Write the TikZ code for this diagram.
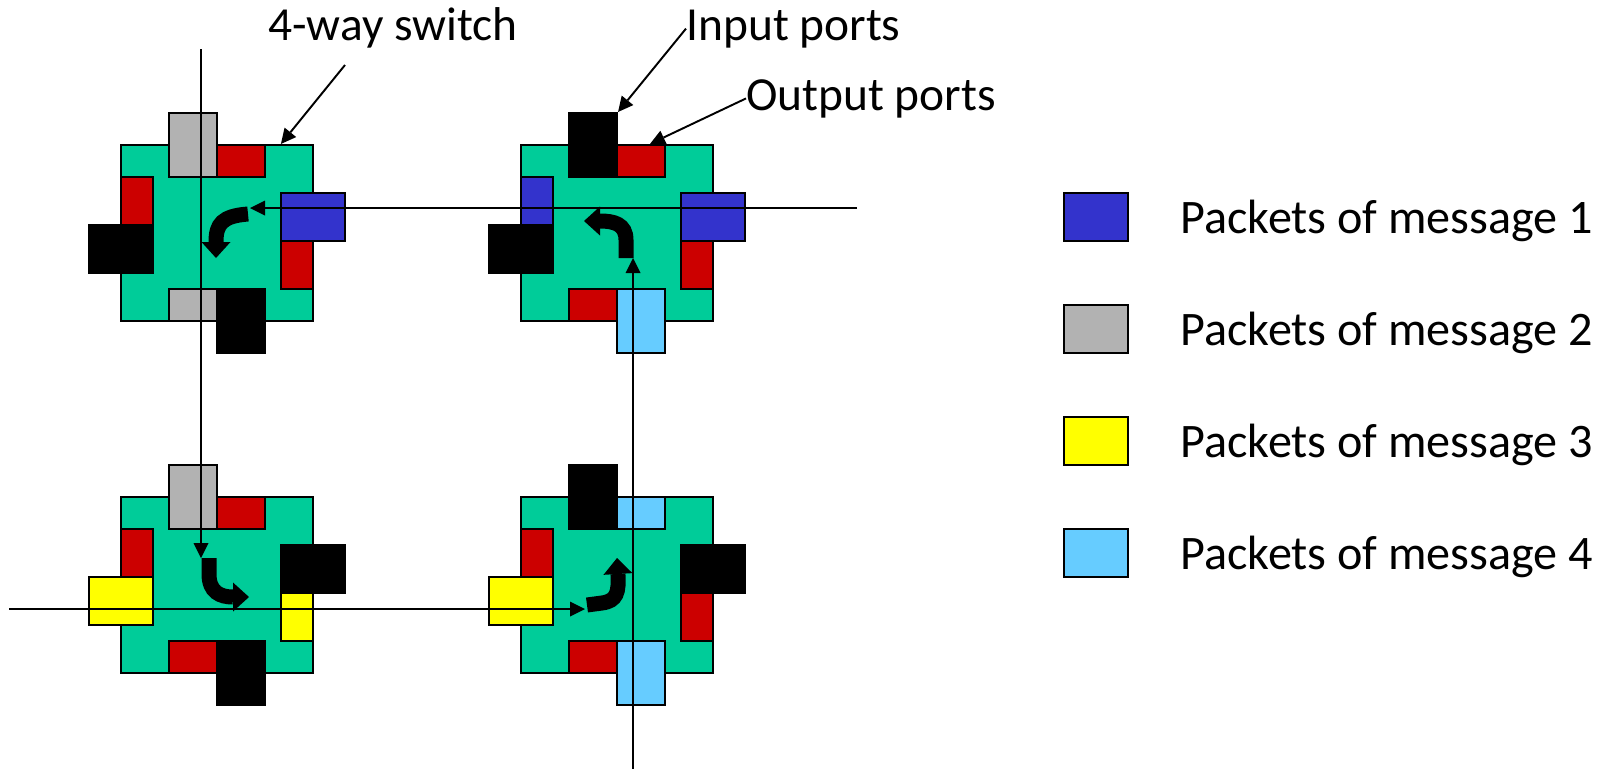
\documentclass[tikz,border=0pt]{standalone}
\usepackage{fontspec}
\setmainfont{Carlito}
\usetikzlibrary{arrows.meta}
\definecolor{swgreen}{RGB}{0,204,153}
\definecolor{portred}{RGB}{204,0,0}
\definecolor{msgone}{RGB}{51,51,204}
\definecolor{msgtwo}{RGB}{178,178,178}
\definecolor{msgthree}{RGB}{255,255,0}
\definecolor{msgfour}{RGB}{102,204,255}

\begin{document}
\begin{tikzpicture}
  [x=0.02cm,y=-0.02cm,
  sw/.style={rectangle,draw=black,fill=swgreen,line width=1.2pt,inner sep=0pt,minimum width=3.84cm,minimum height=3.52cm},
  port/.style={rectangle,draw=black,line width=1.2pt,inner sep=0pt},
  intb/.style={port,minimum width=0.96cm,minimum height=1.28cm},
  inlr/.style={port,minimum width=1.28cm,minimum height=0.96cm},
  outtb/.style={port,minimum width=0.96cm,minimum height=0.64cm},
  outlr/.style={port,minimum width=0.64cm,minimum height=0.96cm},
  msg/.style={line width=1.1pt,-{Triangle[length=0.3cm,width=0.3cm,line width=0pt]}},
  turn/.style={line width=0.3cm,-{Triangle[length=0.32cm,width=0.58cm,line width=0pt]}},
  lbl/.style={font=\fontsize{27}{32}\selectfont,inner sep=0pt},
  key/.style={font=\fontsize{27.4}{32}\selectfont,inner sep=0pt}]
  \useasboundingbox (0,0) rectangle (1598,768);

  % switch 1, top left
  \node[sw] (s1) at (217,233) {};
  \node[intb,fill=msgtwo] (1ti) at (193,145) {};
  \node[outtb,fill=portred] (1to) at (241,161) {};
  \node[outlr,fill=portred] (1lo) at (137,201) {};
  \node[inlr,fill=black] (1li) at (121,249) {};
  \node[inlr,fill=msgone] (1ri) at (313,217) {};
  \node[outlr,fill=portred] (1ro) at (297,265) {};
  \node[outtb,fill=msgtwo] (1bo) at (193,305) {};
  \node[intb,fill=black] (1bi) at (241,321) {};

  % switch 2, top right
  \node[sw] (s2) at (617,233) {};
  \node[intb,fill=black] (2ti) at (593,145) {};
  \node[outtb,fill=portred] (2to) at (641,161) {};
  \node[outlr,fill=msgone] (2lo) at (537,201) {};
  \node[inlr,fill=black] (2li) at (521,249) {};
  \node[inlr,fill=msgone] (2ri) at (713,217) {};
  \node[outlr,fill=portred] (2ro) at (697,265) {};
  \node[outtb,fill=portred] (2bo) at (593,305) {};
  \node[intb,fill=msgfour] (2bi) at (641,321) {};

  % switch 3, bottom left
  \node[sw] (s3) at (217,585) {};
  \node[intb,fill=msgtwo] (3ti) at (193,497) {};
  \node[outtb,fill=portred] (3to) at (241,513) {};
  \node[outlr,fill=portred] (3lo) at (137,553) {};
  \node[inlr,fill=msgthree] (3li) at (121,601) {};
  \node[inlr,fill=black] (3ri) at (313,569) {};
  \node[outlr,fill=msgthree] (3ro) at (297,617) {};
  \node[outtb,fill=portred] (3bo) at (193,657) {};
  \node[intb,fill=black] (3bi) at (241,673) {};

  % switch 4, bottom right
  \node[sw] (s4) at (617,585) {};
  \node[intb,fill=black] (4ti) at (593,497) {};
  \node[outtb,fill=msgfour] (4to) at (641,513) {};
  \node[outlr,fill=portred] (4lo) at (537,553) {};
  \node[inlr,fill=msgthree] (4li) at (521,601) {};
  \node[inlr,fill=black] (4ri) at (713,569) {};
  \node[outlr,fill=portred] (4ro) at (697,617) {};
  \node[outtb,fill=portred] (4bo) at (593,657) {};
  \node[intb,fill=msgfour] (4bi) at (641,673) {};

  % message paths
  \coordinate (m1a) at (857,208); \coordinate (m1b) at (250,208);
  \coordinate (m2a) at (201,49);  \coordinate (m2b) at (201,558);
  \coordinate (m3a) at (9,609);   \coordinate (m3b) at (585,609);
  \coordinate (m4a) at (633,770); \coordinate (m4b) at (633,258);
  \draw[msg] (m1a) -- (m1b);
  \draw[msg] (m2a) -- (m2b);
  \draw[msg] (m3a) -- (m3b);
  \draw[msg] (m4a) -- (m4b);

  % turns inside the switches
  \draw[turn] (248,214) .. controls (222,216) and (216,224) .. (216,258);
  \draw[turn] (626,258) -- (626,240) .. controls (626,224) and (614,221) .. (584,221);
  \draw[turn] (209,558) -- (209,574) .. controls (209,592) and (220,597) .. (249,597);
  \draw[turn] (587,605) -- (602,603) .. controls (617,601) and (619,592) .. (617,558);

  % labels
  \node[lbl,anchor=base] (swl) at (393,40) {4-way switch};
  \node[lbl,anchor=base west] (inl) at (686,40) {Input ports};
  \node[lbl,anchor=base west] (outl) at (746,110) {Output ports};
  \coordinate (swa) at (345,65);
  \draw[msg] (swa) -- ([xshift=3.22cm]s1.north west);
  \draw[msg] (inl.west) -- (2ti.north east);
  \draw[msg] (outl.west) -- ([xshift=0.18cm]2to.north);

  % legend
  \node[inlr,fill=msgone] (k1) at (1096,217) {};
  \node[inlr,fill=msgtwo] (k2) at (1096,329) {};
  \node[inlr,fill=msgthree] (k3) at (1096,441) {};
  \node[inlr,fill=msgfour] (k4) at (1096,553) {};
  \node[key,anchor=base west] (t1) at (1180,233) {Packets of message 1};
  \node[key,anchor=base west] (t2) at (1180,345) {Packets of message 2};
  \node[key,anchor=base west] (t3) at (1180,457) {Packets of message 3};
  \node[key,anchor=base west] (t4) at (1180,569) {Packets of message 4};
\end{tikzpicture}
\end{document}
